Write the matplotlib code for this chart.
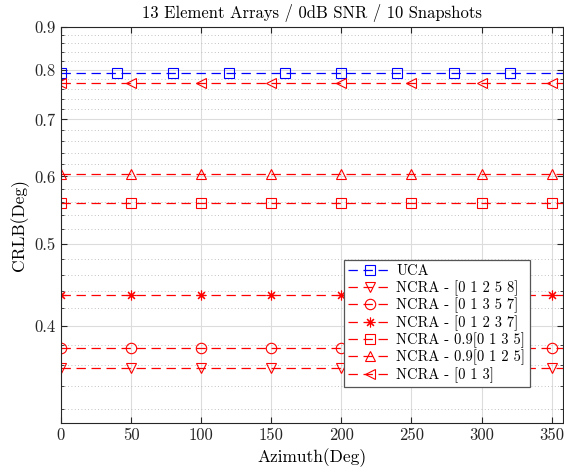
import numpy as np
import matplotlib
matplotlib.use("Agg")
import matplotlib.pyplot as plt
from matplotlib.ticker import FixedLocator, FixedFormatter, NullFormatter

plt.rcParams['font.family'] = 'cmr10'
plt.rcParams['mathtext.fontset'] = 'cm'
plt.rcParams['axes.formatter.use_mathtext'] = True

# azimuth grid (deg)
azimuth = np.arange(0, 359, 2)

# CRLB values (deg), constant over azimuth
labels = ["UCA", "NCRA - [0 1 2 5 8]", "NCRA - [0 1 3 5 7]", "NCRA - [0 1 2 3 7]",
          "NCRA - 0.9[0 1 3 5]", "NCRA - 0.9[0 1 2 5]", "NCRA - [0 1 3]"]
crlb = [0.7944, 0.3575, 0.3769, 0.4358, 0.559, 0.6036, 0.773]
markers = ["s", "v", "o", (8, 2, 0), "s", "^", "<"]
colors = ["b", "r", "r", "r", "r", "r", "r"]
mark_every = [20, 25, 25, 25, 25, 25, 25]

y_major = [0.4, 0.5, 0.6, 0.7, 0.8, 0.9]
y_minor = [0.32, 0.34, 0.36, 0.38, 0.42, 0.44, 0.46, 0.48, 0.52, 0.54, 0.56, 0.58,
           0.62, 0.64, 0.66, 0.68, 0.72, 0.74, 0.76, 0.78, 0.82, 0.84, 0.86, 0.88]
x_ticks = [0, 50, 100, 150, 200, 250, 300, 350]

fig = plt.figure(figsize=(5.64, 4.75), dpi=100)
ax = fig.add_axes([0.108, 0.110, 0.890, 0.834])

for lab, val, m, c, me in zip(labels, crlb, markers, colors, mark_every):
    ms = 7 if isinstance(m, tuple) else 7.5
    ax.plot(azimuth, np.full(azimuth.shape, val), linestyle=(0, (7.5, 4.5)), color=c,
            linewidth=0.9, marker=m, markevery=me, markersize=ms,
            markerfacecolor="none", markeredgecolor=c, markeredgewidth=0.8,
            label=lab)

ax.set_yscale("log")
ax.set_ylim(0.308, 0.9)
ax.set_xlim(0, 358)
ax.yaxis.set_major_locator(FixedLocator(y_major))
ax.yaxis.set_major_formatter(FixedFormatter([str(v) for v in y_major]))
ax.yaxis.set_minor_locator(FixedLocator(y_minor))
ax.yaxis.set_minor_formatter(NullFormatter())
ax.set_xticks(x_ticks)
ax.set_xticklabels([str(v) for v in x_ticks])

ax.grid(True, which="major", color="#dcdcdc", linewidth=0.8)
ax.grid(True, which="minor", axis="y", color="#b0b0b0", linestyle=(0, (1, 3)), linewidth=0.6)
ax.set_axisbelow(True)

ax.tick_params(which="both", direction="in", top=True, right=True, labelsize=12,
               colors="#262626")
ax.tick_params(which="major", length=4)
ax.tick_params(which="minor", length=2.5)
for s in ax.spines.values():
    s.set_color("#262626")
    s.set_linewidth(0.8)

ax.set_xlabel("Azimuth(Deg)", fontsize=12.5)
ax.set_ylabel("CRLB(Deg)", fontsize=12.5)
ax.set_title("13 Element Arrays / 0dB SNR / 10 Snapshots", fontsize=12)

leg = ax.legend(loc="lower right", bbox_to_anchor=(0.934, 0.09), borderaxespad=0,
                fontsize=10.5, fancybox=False, framealpha=1, edgecolor="#555555",
                handlelength=3.0, borderpad=0.3, labelspacing=0.12, handletextpad=0.3)
leg.get_frame().set_linewidth(0.9)

fig.savefig("out.png", dpi=100)
